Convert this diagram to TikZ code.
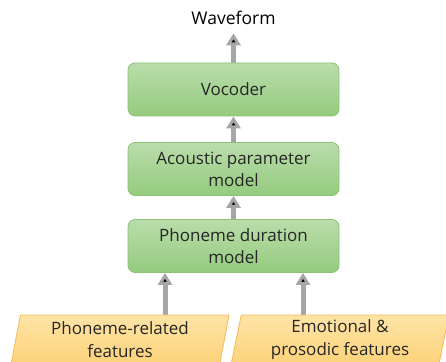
\documentclass[tikz,border=0pt]{standalone}
\usepackage{fontspec}
\setmainfont{Open Sans}
\usetikzlibrary{arrows.meta,shapes.geometric,backgrounds}

\definecolor{boxtop}{HTML}{BADDAB}
\definecolor{boxbot}{HTML}{94CB7E}
\definecolor{boxline}{HTML}{8CC177}
\definecolor{feattop}{HTML}{FEE4A6}
\definecolor{featbot}{HTML}{FDD27A}
\definecolor{featline}{HTML}{F3BA55}
\definecolor{flowgray}{HTML}{A6A6A6}
\definecolor{txt}{HTML}{262626}

\begin{document}
\begin{tikzpicture}[x=1pt,y=1pt,
  flow/.style={draw=flowgray,line width=5pt,shorten <=-3pt,-{Triangle[width=14pt,length=12pt]}},
  model node/.style={draw=boxline,line width=0.8pt,rounded corners=7pt,top color=boxtop,bottom color=boxbot,
    minimum width=211pt,minimum height=53pt,align=center,text=txt,font=\fontsize{17}{22}\selectfont},
  feat node/.style={trapezium,trapezium left angle=77.6,trapezium right angle=102.4,trapezium stretches body,
    draw=featline,line width=0.8pt,top color=feattop,bottom color=featbot,
    minimum width=218pt,minimum height=50pt,align=center,text=txt,font=\fontsize{17}{23}\selectfont}]

  \path[use as bounding box,clip] (0,0) rectangle (446,361);

  \node (wave) at (233.5,343) {\fontsize{17.5}{21}\selectfont Waveform};
  \node[model node] (voc) at (233.5,271.5) {Vocoder};
  \node[model node] (ac) at (233.5,192) {Acoustic parameter\\model};
  \node[model node] (dur) at (233.5,115) {Phoneme duration\\model};

  \node[feat node] (phon) at (120,21) {Phoneme-related\\features};
  \node[feat node] (emo) at (340,21) {Emotional \&\\prosodic features};

  % arrows go behind the boxes
  \begin{scope}[on background layer]
  \path[flow]
    (voc) edge[shorten >=5pt] (wave)
    (ac) edge (voc)
    (dur) edge (ac)
    ([xshift=-68.5pt]dur.south |- phon.north) edge ([xshift=-68.5pt]dur.south)
    ([xshift=69.5pt]dur.south |- emo.north) edge ([xshift=69.5pt]dur.south);
  \end{scope}
\end{tikzpicture}
\end{document}
